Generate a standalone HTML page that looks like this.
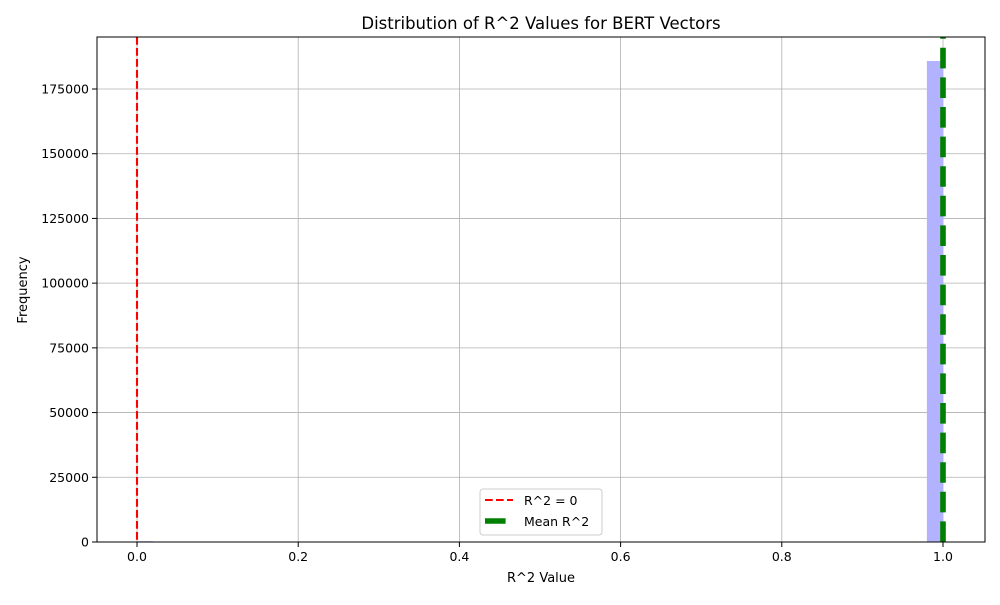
<!DOCTYPE html>
<html><head><meta charset="utf-8"><style>
body{margin:0;background:#fff;font-family:"Liberation Sans","DejaVu Sans",sans-serif}
svg text{font-family:"DejaVu Sans","Liberation Sans",sans-serif}
</style></head><body>
<svg id="c" width="1000" height="600" xmlns="http://www.w3.org/2000/svg"></svg>
<script>
const binStart = 0.0;
const binWidth = 0.02;
const counts = [300,0,0,0,0,0,0,0,0,0,0,0,0,0,0,0,0,0,0,0,0,0,0,0,0,0,0,0,0,0,0,0,0,0,0,0,0,0,0,0,0,0,0,0,0,0,0,0,0,185800];
const xTicks = [0.0,0.2,0.4,0.6,0.8,1.0];
const xTickLabels = ["0.0","0.2","0.4","0.6","0.8","1.0"];
const yTicks = [0,25000,50000,75000,100000,125000,150000,175000];
const yTickLabels = ["0","25000","50000","75000","100000","125000","150000","175000"];
const zeroLine = 0;
const meanValue = 1.0;

const svg=document.getElementById('c');
const NS='http://www.w3.org/2000/svg';
const L=97,R=985,T=37,B=542;
const xs=v=>137+(v-0)*806;
const ys=v=>B-v*(453/175000);
function mk(tag,attrs,parent){const e=document.createElementNS(NS,tag);for(const k in attrs)e.setAttribute(k,attrs[k]);(parent||svg).appendChild(e);return e;}

// grid
xTicks.forEach((t,i)=>{const g=mk('line',{x1:xs(t),x2:xs(t),y1:T,y2:B,stroke:'#b0b0b0','stroke-width':0.8});

});
yTicks.forEach((t,i)=>{const g=mk('line',{x1:L,x2:R,y1:ys(t),y2:ys(t),stroke:'#b0b0b0','stroke-width':0.8});

});

// bars
counts.forEach((c,i)=>{if(c<=0)return;const x0=xs(binStart+i*binWidth),x1=xs(binStart+(i+1)*binWidth);
const b=mk('rect',{x:x0,y:ys(c),width:x1-x0,height:B-ys(c),fill:'#b2b2ff'});

});

// lines
const rl=mk('line',{x1:xs(zeroLine),x2:xs(zeroLine),y1:T,y2:B,stroke:'#ff0000','stroke-width':2.1,'stroke-dasharray':'7.7 3.3'});


const gl=mk('line',{x1:xs(meanValue),x2:xs(meanValue),y1:B,y2:T,stroke:'#008000','stroke-width':5.6,'stroke-dasharray':'20.6 9'});



// axes frame
const fr=mk('rect',{x:L,y:T,width:R-L,height:B-T,fill:'none',stroke:'#000','stroke-width':1});



xTicks.forEach((t,i)=>{mk('line',{x1:xs(t),x2:xs(t),y1:B,y2:B+5,stroke:'#000'});
const tx=mk('text',{x:xs(t),y:B+19,'text-anchor':'middle','font-size':12.5});tx.textContent=xTickLabels[i];

});
yTicks.forEach((t,i)=>{mk('line',{x1:L-5,x2:L,y1:ys(t),y2:ys(t),stroke:'#000'});
const tx=mk('text',{x:L-8,y:ys(t)+4.5,'text-anchor':'end','font-size':12.5});tx.textContent=yTickLabels[i];

});

const ti=mk('text',{x:541,y:29,'text-anchor':'middle','font-size':16.5});ti.textContent='Distribution of R^2 Values for BERT Vectors';


const xl=mk('text',{x:541,y:582,'text-anchor':'middle','font-size':13});xl.textContent='R^2 Value';


const yl=mk('text',{x:27,y:290,'text-anchor':'middle','font-size':13,transform:'rotate(-90 27 290)'});yl.textContent='Frequency';



// legend
const lg=mk('g',{});


mk('rect',{x:480,y:489,width:122,height:46,rx:3,fill:'#fff','fill-opacity':0.8,stroke:'#ccc'},lg);
mk('line',{x1:485,x2:513,y1:500,y2:500,stroke:'#ff0000','stroke-width':2.1,'stroke-dasharray':'7.7 3.3'},lg);
const t1=mk('text',{x:524,y:505,'font-size':12.5},lg);t1.textContent='R^2 = 0';


mk('line',{x1:485,x2:513,y1:521,y2:521,stroke:'#008000','stroke-width':5.6,'stroke-dasharray':'20.6 9'},lg);
const t2=mk('text',{x:524,y:526,'font-size':12.5},lg);t2.textContent='Mean R^2';


</script>
</body></html>
